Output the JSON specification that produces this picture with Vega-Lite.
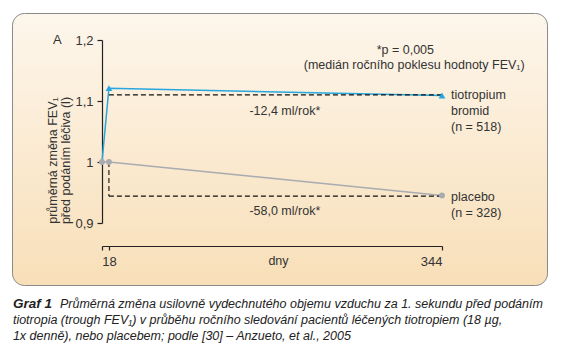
{
  "$schema": "https://vega.github.io/schema/vega-lite/v6.json",
  "width": 535,
  "height": 272,
  "autosize": {"type": "none"},
  "padding": {"left": 12, "top": 13, "right": 14, "bottom": 67},
  "background": "white",
  "view": {
    "fill": {"gradient": "linear", "x1": 0, "y1": 0, "x2": 0, "y2": 1, "stops": [{"offset": 0, "color": "#fdf6ec"}, {"offset": 1, "color": "#f8dfb8"}]},
    "stroke": "#8a8a8a",
    "strokeWidth": 1,
    "cornerRadius": 12
  },
  "config": {
    "font": "Liberation Sans",
    "axis": {"domainColor": "#222", "tickColor": "#222", "labelColor": "#333", "titleColor": "#333", "labelFont": "Liberation Sans", "titleFont": "Liberation Sans", "grid": false}
  },
  "datasets": {
    "series": [
      {"series": "tiotropium", "day": 0, "v": 1.0},
      {"series": "tiotropium", "day": 18, "v": 1.121},
      {"series": "tiotropium", "day": 344, "v": 1.109},
      {"series": "placebo", "day": 0, "v": 1.0},
      {"series": "placebo", "day": 18, "v": 1.0},
      {"series": "placebo", "day": 344, "v": 0.945}
    ],
    "guides": [
      {"day": 18, "day2": 344, "v": 1.11, "v2": 1.11},
      {"day": 18, "day2": 18, "v": 1.0, "v2": 0.944},
      {"day": 18, "day2": 344, "v": 0.944, "v2": 0.944}
    ],
    "centerText": [
      {"day": 315.5, "v": 1.184, "text": "*p = 0,005"},
      {"day": 322.5, "v": 1.1586, "text": "(medián ročního poklesu hodnoty FEV₁)"},
      {"day": 215, "v": 1.0833, "text": "-12,4 ml/rok*"},
      {"day": 215, "v": 0.9203, "text": "-58,0 ml/rok*"}
    ],
    "panelLetter": [
      {"day": -73.8, "v": 1.2, "text": "A"}
    ],
    "seriesLabels": [
      {"day": 344, "v": 1.1095, "text": "tiotropium"},
      {"day": 344, "v": 1.0838, "text": "bromid"},
      {"day": 344, "v": 1.0566, "text": "(n = 518)"},
      {"day": 344, "v": 0.9421, "text": "placebo"},
      {"day": 344, "v": 0.9159, "text": "(n = 328)"}
    ],
    "captionBold": [
      {"day": -124.7, "v": 0.7675, "text": "Graf 1"}
    ],
    "caption": [
      {"day": -70.6, "v": 0.7675, "text": "Průměrná změna usilovně vydechnutého objemu vzduchu za 1. sekundu před podáním"},
      {"day": -124.7, "v": 0.7413, "text": "tiotropia (trough FEV₁) v průběhu ročního sledování pacientů léčených tiotropiem (18 µg,"},
      {"day": -124.7, "v": 0.7151, "text": "1x denně), nebo placebem; podle [30] – Anzueto, et al., 2005"}
    ]
  },
  "layer": [
    {
      "data": {"name": "series"},
      "mark": {"type": "line", "strokeWidth": 1.5},
      "encoding": {
        "x": {
          "field": "day", "type": "quantitative",
          "scale": {"type": "pow", "exponent": 1.32, "domain": [0, 344], "range": [90, 430], "nice": false, "zero": false},
          "axis": {
            "title": "dny", "values": [0, 18, 344], "labelExpr": "datum.value == 0 ? '' : datum.label",
            "offset": -39, "tickSize": 4, "labelPadding": 5, "labelFontSize": 13, "labelDx": -2.5,
            "titleFontSize": 12.5, "titleFontWeight": "normal", "titleX": 266, "titleY": 14, "titleBaseline": "middle",
            "domainWidth": 1.2, "tickWidth": 1.2
          }
        },
        "y": {
          "field": "v", "type": "quantitative",
          "scale": {"domain": [0.9, 1.2], "range": [210, 27], "nice": false, "zero": false},
          "axis": {
            "title": ["průměrná změna FEV₁", "před podáním léčiva (l)"],
            "values": [0.9, 1.0, 1.1, 1.2],
            "labelExpr": "datum.value == 1 ? '1' : replace(format(datum.value, '.1f'), '.', ',')",
            "offset": -90, "tickSize": 5, "labelPadding": 4, "labelFontSize": 13,
            "titleFontSize": 12.5, "titleFontWeight": "normal", "titleLineHeight": 13,
            "titleX": -50, "titleY": 147, "titleBaseline": "middle", "titleAngle": -90,
            "domainWidth": 1.2, "tickWidth": 1.2
          }
        },
        "color": {
          "field": "series", "type": "nominal",
          "scale": {"domain": ["tiotropium", "placebo"], "range": ["#27a6df", "#a8abaf"]},
          "legend": null
        }
      }
    },
    {
      "data": {"name": "guides"},
      "mark": {"type": "rule", "color": "#111", "strokeWidth": 1.1, "strokeDash": [5, 3]},
      "encoding": {
        "x": {"field": "day", "type": "quantitative"},
        "x2": {"field": "day2"},
        "y": {"field": "v", "type": "quantitative"},
        "y2": {"field": "v2"}
      }
    },
    {
      "data": {"name": "series"},
      "transform": [{"filter": "datum.series == 'tiotropium' && datum.day > 0"}],
      "mark": {"type": "point", "shape": "triangle-up", "filled": true, "size": 45, "color": "#27a6df", "opacity": 1},
      "encoding": {
        "x": {"field": "day", "type": "quantitative"},
        "y": {"field": "v", "type": "quantitative"}
      }
    },
    {
      "data": {"name": "series"},
      "transform": [{"filter": "datum.series == 'placebo'"}],
      "mark": {"type": "point", "shape": "circle", "filled": true, "size": 35, "color": "#a8abaf", "opacity": 1},
      "encoding": {
        "x": {"field": "day", "type": "quantitative"},
        "y": {"field": "v", "type": "quantitative"}
      }
    },
    {
      "data": {"name": "centerText"},
      "mark": {"type": "text", "align": "center", "baseline": "middle", "fontSize": 12.5, "color": "#333"},
      "encoding": {
        "x": {"field": "day", "type": "quantitative"},
        "y": {"field": "v", "type": "quantitative"},
        "text": {"field": "text"}
      }
    },
    {
      "data": {"name": "panelLetter"},
      "mark": {"type": "text", "align": "center", "baseline": "middle", "fontSize": 13, "color": "#333"},
      "encoding": {
        "x": {"field": "day", "type": "quantitative"},
        "y": {"field": "v", "type": "quantitative"},
        "text": {"field": "text"}
      }
    },
    {
      "data": {"name": "seriesLabels"},
      "mark": {"type": "text", "align": "left", "baseline": "middle", "dx": 9, "fontSize": 12.5, "color": "#333"},
      "encoding": {
        "x": {"field": "day", "type": "quantitative"},
        "y": {"field": "v", "type": "quantitative"},
        "text": {"field": "text"}
      }
    },
    {
      "data": {"name": "captionBold"},
      "mark": {"type": "text", "align": "left", "baseline": "middle", "fontSize": 13.5, "fontStyle": "italic", "fontWeight": "bold", "color": "#222"},
      "encoding": {
        "x": {"field": "day", "type": "quantitative"},
        "y": {"field": "v", "type": "quantitative"},
        "text": {"field": "text"}
      }
    },
    {
      "data": {"name": "caption"},
      "mark": {"type": "text", "align": "left", "baseline": "middle", "fontSize": 12.5, "fontStyle": "italic", "color": "#222"},
      "encoding": {
        "x": {"field": "day", "type": "quantitative"},
        "y": {"field": "v", "type": "quantitative"},
        "text": {"field": "text"}
      }
    }
  ]
}
